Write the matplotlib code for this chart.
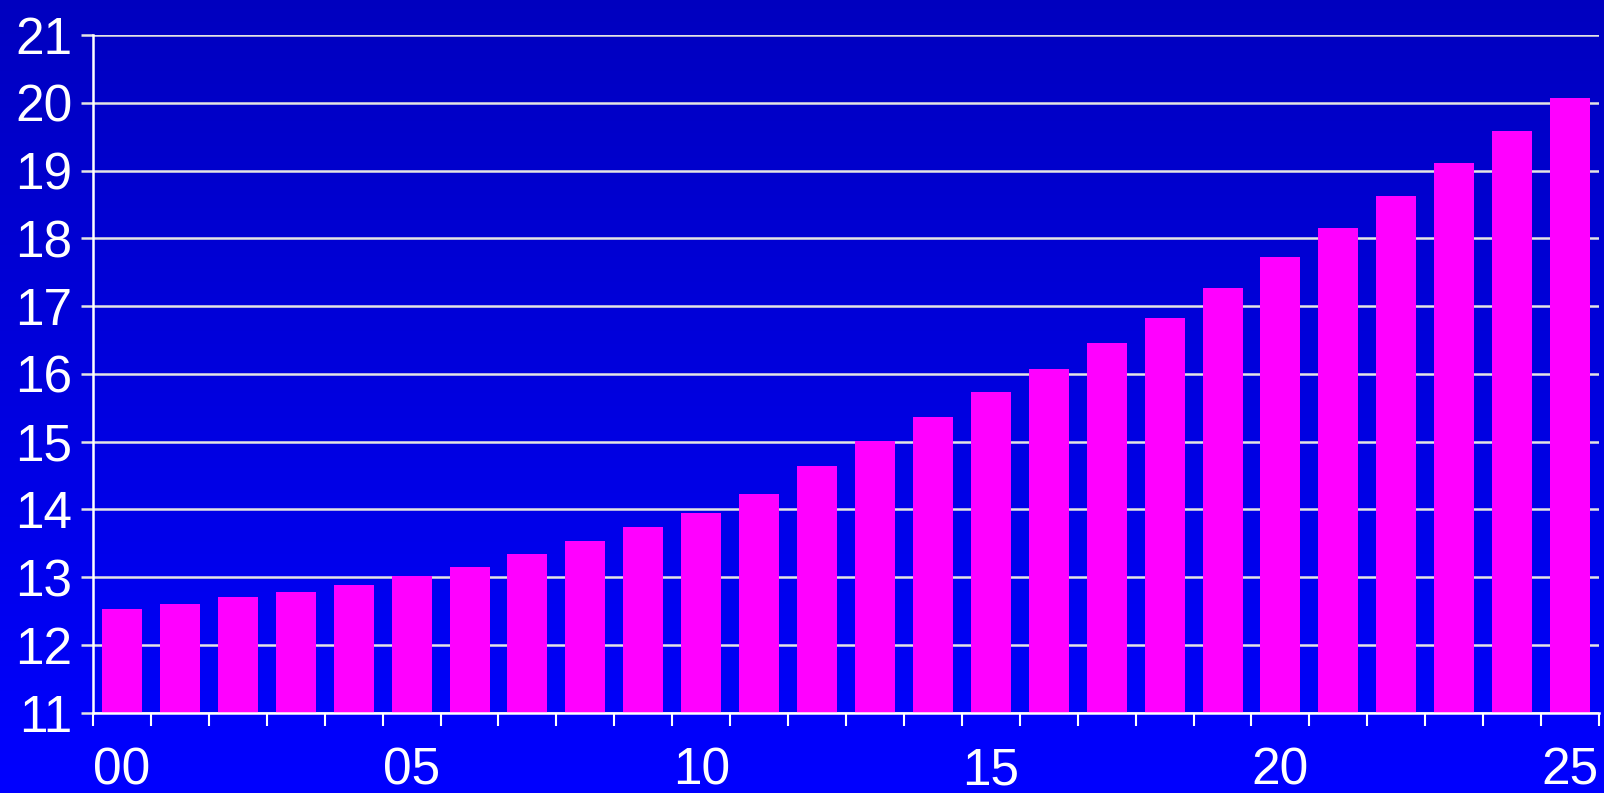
import numpy as np
import matplotlib

matplotlib.use("Agg")
import matplotlib.pyplot as plt

# yearly values, 2000-2025
years = ["00", "01", "02", "03", "04", "05", "06", "07", "08", "09",
         "10", "11", "12", "13", "14", "15", "16", "17", "18", "19",
         "20", "21", "22", "23", "24", "25"]
values = [12.53, 12.61, 12.70, 12.78, 12.89, 13.01, 13.15, 13.34, 13.54, 13.74,
          13.94, 14.23, 14.64, 15.01, 15.36, 15.73, 16.07, 16.45, 16.82, 17.27,
          17.72, 18.15, 18.62, 19.11, 19.58, 20.07]
y_ticks = [11, 12, 13, 14, 15, 16, 17, 18, 19, 20, 21]
label_every = 5

plt.rcParams["font.family"] = ["Liberation Sans", "DejaVu Sans"]

fig = plt.figure(figsize=(16.04, 7.93), dpi=100)

# vertical blue gradient behind everything
bg = fig.add_axes([0, 0, 1, 1], zorder=-10)
grad = np.linspace(0.75, 1.0, 256).reshape(-1, 1)
rgb = np.zeros((256, 1, 3))
rgb[:, :, 2] = grad
bg.imshow(rgb, aspect="auto", extent=[0, 1, 0, 1], origin="upper")
bg.axis("off")

ax = fig.add_axes([0.058, 0.1013, 0.9389, 0.8546])
ax.patch.set_alpha(0)

x = np.arange(len(values))
ax.bar(x, values, width=0.69, color="#FF00FF", zorder=3)

ax.set_xlim(-0.5, len(values) - 0.5)
ax.set_ylim(y_ticks[0], y_ticks[-1])
ax.set_yticks(y_ticks)
ax.grid(axis="y", color="#E4E4E4", linewidth=1.8, zorder=1)

# labels every fifth year, tick marks between bars
ax.set_xticks(x[::label_every])
ax.set_xticklabels(years[::label_every])
ax.set_xticks(np.arange(len(values) + 1) - 0.5, minor=True)
ax.tick_params(axis="x", which="major", length=0, pad=24,
               labelsize=37, labelcolor="white")
ax.tick_params(axis="x", which="minor", length=9, width=1.5,
               color="white", direction="out")
ax.tick_params(axis="y", length=9, width=1.8, color="#E4E4E4",
               labelsize=37, labelcolor="white", pad=6)

for side in ("top", "right"):
    ax.spines[side].set_visible(False)
for side in ("left", "bottom"):
    ax.spines[side].set_color("white")
    ax.spines[side].set_linewidth(1.8)
    ax.spines[side].set_zorder(4)

fig.savefig("out.png", dpi=100)
